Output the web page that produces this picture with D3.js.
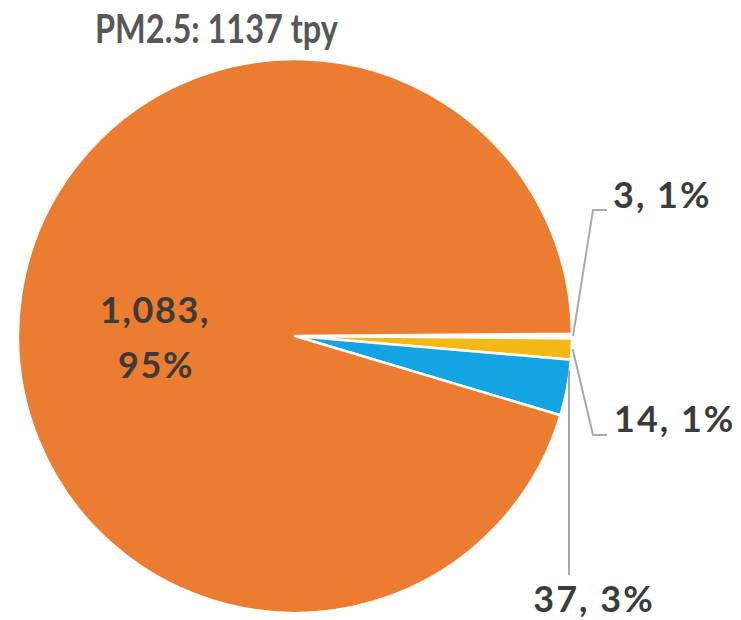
<!DOCTYPE html>
<html>
<head>
<meta charset="utf-8">
<script src="https://cdn.jsdelivr.net/npm/d3@7"></script>
<style>
  html, body { margin: 0; padding: 0; background: #fff; }
  svg { display: block; }
  text { font-family: Lato, "Open Sans", sans-serif; font-weight: 700; }
</style>
</head>
<body>
<svg id="chart" width="741" height="620"></svg>
<script>
const title = "PM2.5: 1137 tpy";
const categories = ["Other", "Yellow", "Blue", "Orange"];
const values = [3, 14, 37, 1083];
const percents = ["1%", "1%", "3%", "95%"];
const colors = ["#ffffff", "#f5b915", "#15a4e3", "#ec7c30"];

const svg = d3.select("#chart");
const cx = 295, cy = 336, r = 277;

const fmt = d3.format(",");
const pie = d3.pie().sort(null).value(d => d.v)
  .startAngle(Math.PI / 2 - 0.008).endAngle(Math.PI / 2 - 0.008 + 2 * Math.PI);
const data = categories.map((c, i) => ({ c, v: values[i], p: percents[i], col: colors[i] }));
const arcs = pie(data);
const arc = d3.arc().innerRadius(0).outerRadius(r);

const g = svg.append("g").attr("transform", `translate(${cx},${cy})`);
g.selectAll("path").data(arcs).join("path")
  .attr("d", arc)
  .attr("fill", d => d.data.col)
  .attr("stroke", "#ffffff")
  .attr("stroke-width", 2.5)
  .attr("stroke-linejoin", "round");

// Title
svg.append("text")
  .attr("x", 216.5).attr("y", 43)
  .attr("text-anchor", "middle")
  .attr("fill", "#575757")
  .attr("font-size", 40)
  .attr("textLength", 243).attr("lengthAdjust", "spacingAndGlyphs")
  .text(title);

// Inside label for the big slice
const big = arcs[3];
const inner = svg.append("text")
  .attr("text-anchor", "middle")
  .attr("fill", "#3b3b3b")
  .attr("font-size", 36)
  .attr("letter-spacing", 1.6);
inner.append("tspan").attr("x", 155).attr("y", 323).text(fmt(big.data.v) + ",");
inner.append("tspan").attr("x", 156).attr("y", 378).text(big.data.p);

// Leader lines and outside labels
const edge = d => {
  const a = (d.startAngle + d.endAngle) / 2 - Math.PI / 2;
  return [cx + (r + 1) * Math.cos(a), cy + (r + 1) * Math.sin(a)];
};
const lineColor = "#a9a9a9";
const outside = [
  { d: arcs[0], pts: p => [p, [593, 210], [607, 210]], tx: 613, ty: 208, anchor: "start" },
  { d: arcs[1], pts: p => [p, [593, 435], [607, 435]], tx: 614, ty: 432, anchor: "start" },
  { d: arcs[2], pts: p => [[569, p[1] - 18], [569, 575]], tx: 594, ty: 612, anchor: "middle" }
];
outside.forEach(o => {
  const p = edge(o.d);
  svg.append("path")
    .attr("d", d3.line()(o.pts(p)))
    .attr("fill", "none")
    .attr("stroke", lineColor)
    .attr("stroke-width", 2);
  svg.append("text")
    .attr("x", o.tx).attr("y", o.ty)
    .attr("text-anchor", o.anchor)
    .attr("fill", "#3b3b3b")
    .attr("font-size", 36)
    .attr("letter-spacing", 2)
    .text(`${fmt(o.d.data.v)}, ${o.d.data.p}`);
});
</script>
</body>
</html>
